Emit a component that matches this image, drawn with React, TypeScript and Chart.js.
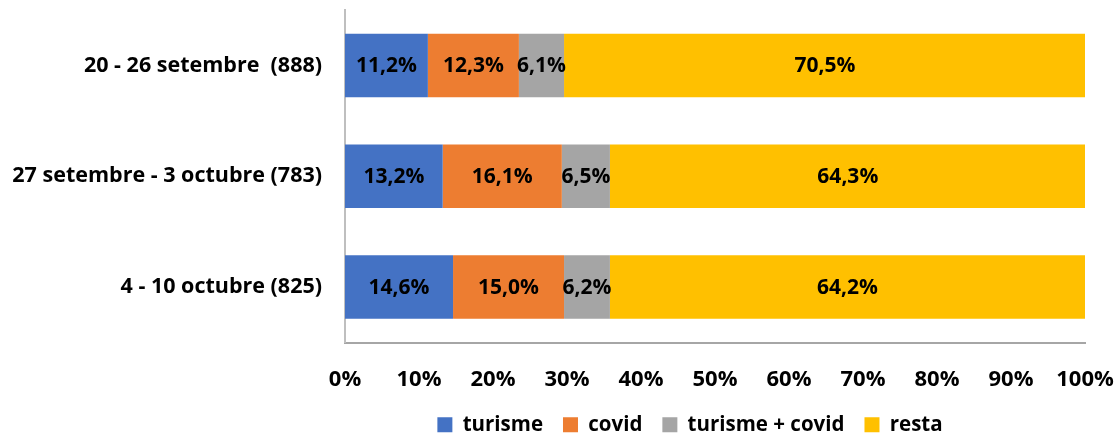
import React, { useEffect, useRef } from "react";
import { Chart, registerables } from "chart.js";

Chart.register(...registerables);

const categories = ["20 - 26 setembre  (888)", "27 setembre - 3 octubre (783)", "4 - 10 octubre (825)"];
const turisme = [11.2, 13.2, 14.6];
const covid = [12.3, 16.1, 15.0];
const turismeCovid = [6.1, 6.5, 6.2];
const resta = [70.5, 64.3, 64.2];
const seriesNames = ["turisme", "covid", "turisme + covid", "resta"];
const seriesColors = ["#4472C4", "#ED7D31", "#A5A5A5", "#FFC000"];
const xTicks = [0, 10, 20, 30, 40, 50, 60, 70, 80, 90, 100];

const FONT = "'Open Sans', 'Noto Sans', sans-serif";

const labelPlugin = {
  id: "barLabels",
  afterDatasetsDraw(chart: any) {
    const ctx = chart.ctx;
    ctx.save();
    ctx.font = `700 21px ${FONT}`;
    ctx.fillStyle = "#000000";
    ctx.textAlign = "center";
    ctx.textBaseline = "middle";
    chart.data.datasets.forEach((ds: any, di: number) => {
      const meta = chart.getDatasetMeta(di);
      meta.data.forEach((el: any, i: number) => {
        const v = ds.data[i];
        const txt = v.toFixed(1).replace(".", ",") + "%";
        const cx = (el.x + el.base) / 2;
        ctx.fillText(txt, cx, el.y + 1);
      });
    });
    ctx.restore();
  },
};

const legendShift = {
  id: "legendShift",
  afterLayout(chart: any) {
    const lg = chart.legend;
    if (!lg) return;
    const off = 690 - (lg.left + lg.right) / 2;
    lg.left += off;
    lg.right += off;
  },
};

export default function App() {
  const ref = useRef<HTMLCanvasElement>(null);
  useEffect(() => {
    document.body.style.margin = "0";
    const values = [turisme, covid, turismeCovid, resta];
    const chart = new Chart(ref.current!, {
      type: "bar",
      data: {
        labels: categories,
        datasets: seriesNames.map((n, i) => ({
          label: n,
          data: values[i],
          backgroundColor: seriesColors[i],
          borderWidth: 0,
          categoryPercentage: 1,
          barPercentage: 0.573,
        })),
      },
      options: {
        indexAxis: "y",
        animation: false,
        responsive: false,
        maintainAspectRatio: false,
        layout: { padding: { left: 0, right: 33, top: 10, bottom: -12 } },
        scales: {
          x: {
            stacked: true,
            min: 0,
            max: 100,
            afterBuildTicks: (s: any) => {
              s.ticks = xTicks.map((v) => ({ value: v }));
            },
            grid: { display: false, drawTicks: false },
            border: { display: true, color: "#A6A6A6", width: 2 },
            ticks: {
              padding: 24,
              color: "#000000",
              font: { family: FONT, size: 22, weight: "700" },
              callback: (v: any) => v + "%",
              maxRotation: 0,
            },
            afterFit: (s: any) => {
              s.height = 52;
              s.paddingLeft = 0;
              s.paddingRight = 0;
            },
          },
          y: {
            stacked: true,
            grid: { display: false, drawTicks: false },
            border: { display: true, color: "#BFBFBF", width: 2 },
            ticks: {
              padding: 23,
              color: "#000000",
              font: { family: FONT, size: 21.5, weight: "700" },
            },
            afterFit: (s: any) => {
              s.width = 345;
              s.paddingTop = 0;
              s.paddingBottom = 0;
            },
          },
        },
        plugins: {
          legend: {
            position: "bottom",
            labels: {
              color: "#000000",
              font: { family: FONT, size: 20.5, weight: "700" },
              boxWidth: 15,
              boxHeight: 15,
              padding: 20,
            },
          },
          tooltip: { enabled: false },
        },
      },
      plugins: [labelPlugin, legendShift],
    });
    return () => chart.destroy();
  }, []);
  return (
    <div style={{ width: 1118, height: 433 }}>
      <canvas ref={ref} width={1118} height={433} />
    </div>
  );
}
